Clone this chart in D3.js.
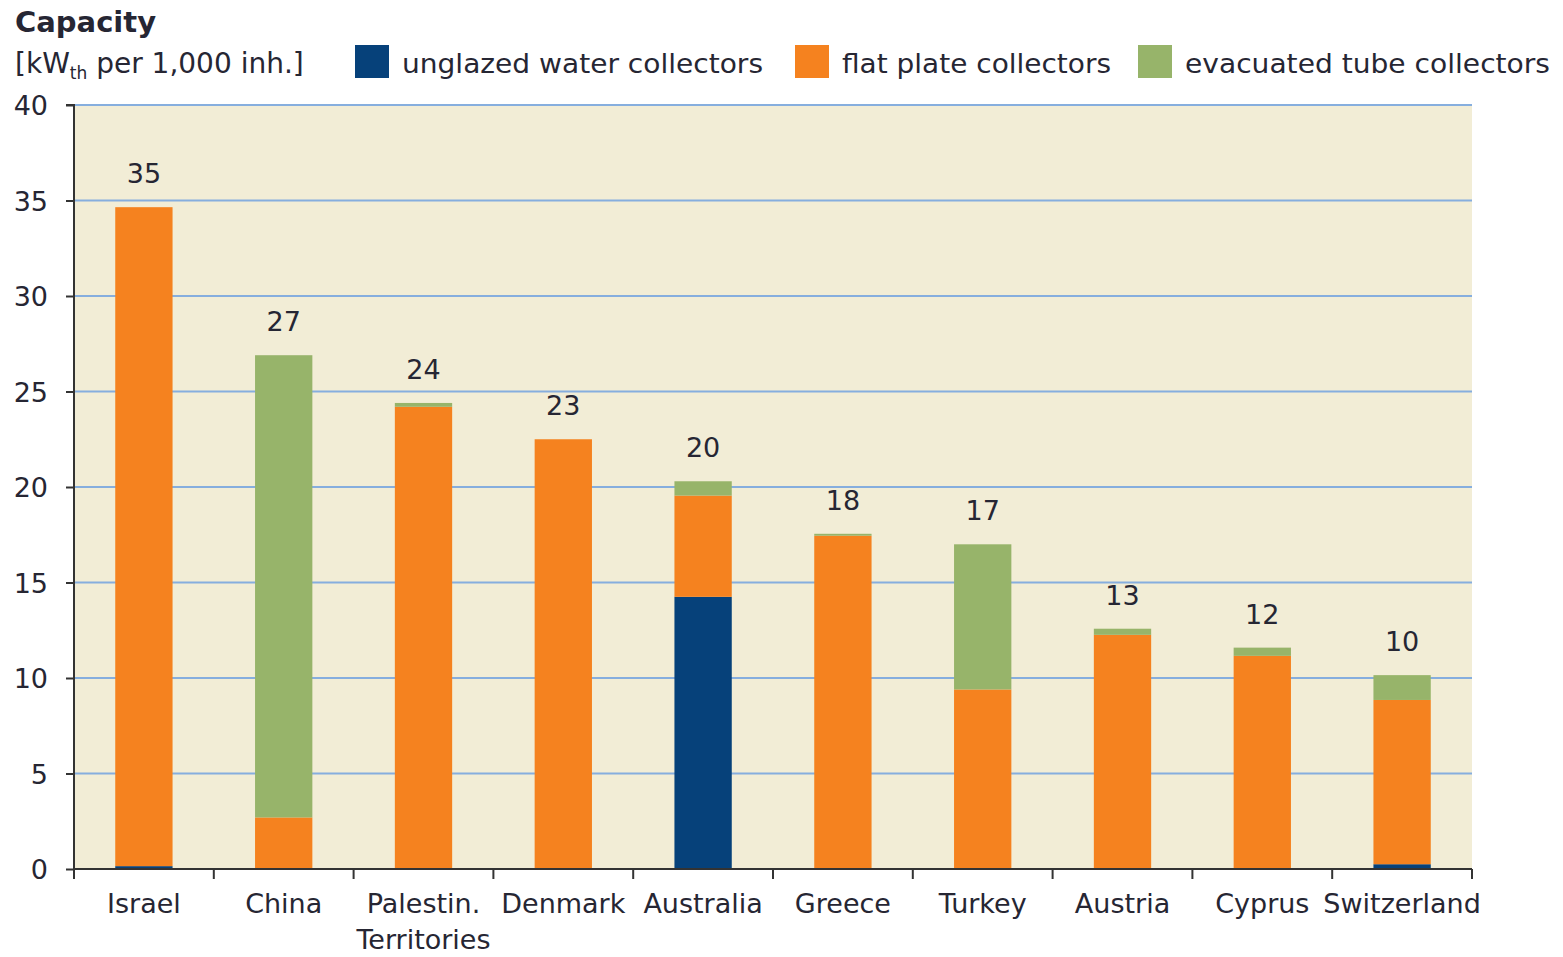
<!DOCTYPE html>
<html>
<head>
<meta charset="utf-8">
<script src="https://cdn.jsdelivr.net/npm/d3@7"></script>
<style>
  body { margin: 0; background: #fff; }
  svg text { font-family: 'DejaVu Sans', Verdana, sans-serif; fill: #262633; }
</style>
</head>
<body>
<div id="container"></div>
<script>
const categories = ['Israel', 'China', 'Palestin.\nTerritories', 'Denmark', 'Australia', 'Greece', 'Turkey', 'Austria', 'Cyprus', 'Switzerland'];
const unglazed = [0.15, 0, 0, 0, 14.25, 0, 0, 0, 0, 0.25];
const flatPlate = [34.5, 2.7, 24.2, 22.5, 5.3, 17.45, 9.4, 12.26, 11.16, 8.6];
const evacuated = [0, 24.2, 0.2, 0, 0.75, 0.1, 7.6, 0.32, 0.43, 1.3];
const totalLabels = ['35', '27', '24', '23', '20', '18', '17', '13', '12', '10'];
const seriesNames = ['unglazed water collectors', 'flat plate collectors', 'evacuated tube collectors'];
const yTicks = [0, 5, 10, 15, 20, 25, 30, 35, 40];

const colors = ['#06417a', '#f5821f', '#97b46a'];

const width = 1563, height = 957;
const margin = { left: 74, right: 91, top: 105, bottom: 88 };

const svg = d3.select('#container').append('svg')
    .attr('width', width)
    .attr('height', height);

const x = d3.scaleBand()
    .domain(categories)
    .range([margin.left, width - margin.right])
    .paddingInner(0.59)
    .paddingOuter(0.295);

const y = d3.scaleLinear()
    .domain([0, 40])
    .range([height - margin.bottom, margin.top]);

// plot background
svg.append('rect')
    .attr('x', margin.left)
    .attr('y', y(40))
    .attr('width', width - margin.right - margin.left)
    .attr('height', y(0) - y(40))
    .attr('fill', '#f2edd6');

// gridlines
svg.append('g').selectAll('line')
    .data(yTicks.filter(d => d > 0))
    .join('line')
    .attr('x1', margin.left)
    .attr('x2', width - margin.right)
    .attr('y1', d => y(d))
    .attr('y2', d => y(d))
    .attr('stroke', '#86aede')
    .attr('stroke-width', 2);

// stacked bars
const rows = categories.map((c, i) => ({ cat: c, u: unglazed[i], f: flatPlate[i], e: evacuated[i] }));
const stack = d3.stack().keys(['u', 'f', 'e'])(rows);

svg.append('g').selectAll('g')
    .data(stack)
    .join('g')
    .attr('fill', (d, i) => colors[i])
    .selectAll('rect')
    .data(d => d)
    .join('rect')
    .attr('x', d => x(d.data.cat))
    .attr('width', x.bandwidth())
    .attr('y', d => y(d[1]))
    .attr('height', d => Math.max(0, y(d[0]) - y(d[1])));

// value labels
svg.append('g').selectAll('text')
    .data(rows)
    .join('text')
    .attr('x', d => x(d.cat) + x.bandwidth() / 2)
    .attr('y', d => y(d.u + d.f + d.e) - 24)
    .attr('text-anchor', 'middle')
    .attr('font-size', 27)
    .text((d, i) => totalLabels[i]);

// y axis
const yAxis = svg.append('g')
    .attr('transform', `translate(${margin.left},0)`)
    .call(d3.axisLeft(y).tickValues(yTicks).tickSize(8).tickPadding(14));
yAxis.selectAll('text').attr('font-size', 27).attr('dy', '0.36em').attr('x', -26);
yAxis.selectAll('line, path').attr('stroke', '#333').attr('stroke-width', 2);
yAxis.select('.domain').attr('d', `M-8,${y(40)}H0V${y(0)}`);

// x axis
const step = x.step();
const xStart = margin.left;
const xAxis = svg.append('g');
xAxis.append('line')
    .attr('x1', xStart).attr('x2', width - margin.right)
    .attr('y1', y(0)).attr('y2', y(0))
    .attr('stroke', '#333').attr('stroke-width', 2);
xAxis.selectAll('.tick')
    .data(d3.range(categories.length + 1))
    .join('line')
    .attr('x1', i => xStart + i * step)
    .attr('x2', i => xStart + i * step)
    .attr('y1', y(0))
    .attr('y2', y(0) + 10)
    .attr('stroke', '#333').attr('stroke-width', 2);

const catText = svg.append('g').selectAll('text')
    .data(categories)
    .join('text')
    .attr('x', d => x(d) + x.bandwidth() / 2)
    .attr('y', y(0) + 44)
    .attr('text-anchor', 'middle')
    .attr('font-size', 27);
catText.selectAll('tspan')
    .data(d => d.split('\n'))
    .join('tspan')
    .attr('x', function () { return d3.select(this.parentNode).attr('x'); })
    .attr('dy', (d, i) => i === 0 ? 0 : 36)
    .text(d => d);

// title
svg.append('text')
    .attr('x', 15).attr('y', 32)
    .attr('font-size', 29)
    .attr('font-weight', 'bold')
    .text('Capacity');

const unit = svg.append('text')
    .attr('x', 15).attr('y', 73)
    .attr('font-size', 28);
unit.append('tspan').text('[kW');
unit.append('tspan').attr('font-size', 17).attr('dy', 6).text('th');
unit.append('tspan').attr('dy', -6).text(' per 1,000 inh.]');

// legend
const legendX = [355, 795, 1138];
const legendW = [361, 269, 365];
const legend = svg.append('g').selectAll('g')
    .data(seriesNames)
    .join('g')
    .attr('transform', (d, i) => `translate(${legendX[i]},45)`);
legend.append('rect')
    .attr('width', 34).attr('height', 33)
    .attr('fill', (d, i) => colors[i]);
legend.append('text')
    .attr('x', 47).attr('y', 28)
    .attr('font-size', 27)
    .attr('textLength', (d, i) => legendW[i])
    .attr('lengthAdjust', 'spacingAndGlyphs')
    .text(d => d);
</script>
</body>
</html>
